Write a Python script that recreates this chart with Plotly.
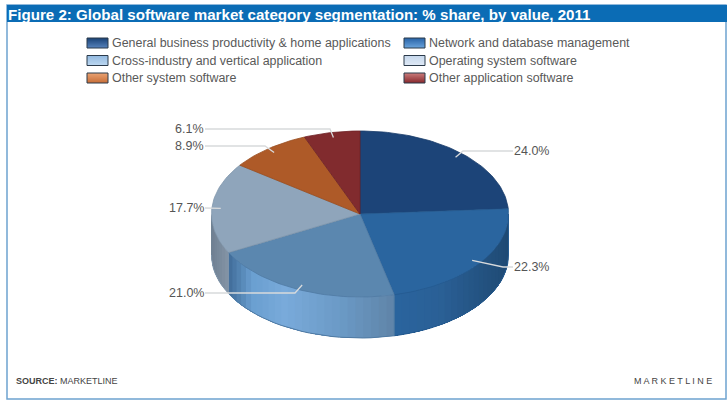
import math
import plotly.graph_objects as go

categories = ["General business productivity & home applications", "Network and database management",
              "Cross-industry and vertical application", "Operating system software",
              "Other system software", "Other application software"]
shares = [24.0, 22.3, 21.0, 17.7, 8.9, 6.1]
value_labels = ["24.0%", "22.3%", "21.0%", "17.7%", "8.9%", "6.1%"]
title_text = "Figure 2: Global software market category segmentation: % share, by value, 2011"

# styling
top_colors = ["#1c4478", "#2a659f", "#5b87af", "#8fa5bb", "#ae5a28", "#812b2e"]
edge_colors = ["#163a68", "#245a90", "#4f7aa3", "#7f95ab", "#984d20", "#6f2226"]
wall_stops = [
    [(0, "#1f4a74"), (1, "#1f4a74")],
    [(394, "#2a649e"), (440, "#2a6096"), (508, "#1f4a74")],
    [(228, "#3e6a96"), (252, "#6a9fd0"), (285, "#79aada"), (340, "#6b9ac6"), (394, "#5f84a8")],
    [(211, "#6e7f91"), (228, "#8494a6")],
    [(0, "#7a3a18"), (1, "#7a3a18")],
    [(0, "#5a1a1e"), (1, "#5a1a1e")],
]
swatch_colors = [("#1c4478", "#5a86c0"), ("#2a65a8", "#6fa8e0"), ("#6fa3d6", "#a8cbec"),
                 ("#b4cbe6", "#d4e2f2"), ("#c9703a", "#e8a070"), ("#8a2c30", "#c87878")]
CX, CY, RX, RY, DEPTH = 360, 214, 148.5, 83, 41


def hex2rgb(c):
    return [int(c[i:i + 2], 16) for i in (1, 3, 5)]


def mix(a, b, t):
    ra, rb = hex2rgb(a), hex2rgb(b)
    return "#%02x%02x%02x" % tuple(round(p + (q - p) * t) for p, q in zip(ra, rb))


def ramp(stops, x):
    if x <= stops[0][0]:
        return stops[0][1]
    for (x0, c0), (x1, c1) in zip(stops, stops[1:]):
        if x <= x1:
            return mix(c0, c1, (x - x0) / (x1 - x0))
    return stops[-1][1]


def pt(deg, r=1.0, dy=0.0):
    a = math.radians(deg)
    return CX + RX * r * math.sin(a), CY - RY * r * math.cos(a) + dy


fig = go.Figure()


def poly(xs, ys, fill, line=None, width=0, name=""):
    fig.add_trace(go.Scatter(x=xs, y=ys, mode="lines", fill="toself", fillcolor=fill,
                             line=dict(color=line or fill, width=width), hoverinfo="skip",
                             showlegend=False, name=name))


def path(xs, ys, color, width=1):
    fig.add_trace(go.Scatter(x=xs, y=ys, mode="lines", line=dict(color=color, width=width),
                             hoverinfo="skip", showlegend=False))


# slice boundaries from the values
total = sum(shares)
bounds = [0.0]
for s in shares:
    bounds.append(bounds[-1] + 360 * s / total)

# walls: each strip reaches to the end of its slice and the next one paints over it, so no seams show
STEP = 3.0
for i, s in enumerate(shares):
    a0, a1 = max(bounds[i], 90), min(bounds[i + 1], 270)
    if a1 <= a0:
        continue
    n = max(1, int((a1 - a0) / STEP))
    angles = [a0 + (a1 - a0) * k / n for k in range(n + 1)]
    for k in range(n):
        rest = angles[k:]
        top = [pt(a) for a in rest]
        bot = [pt(a, dy=DEPTH) for a in reversed(rest)]
        xs = [p[0] for p in top + bot] + [top[0][0]]
        ys = [p[1] for p in top + bot] + [top[0][1]]
        poly(xs, ys, ramp(wall_stops[i], (top[0][0] + pt(angles[k + 1])[0]) / 2), width=0, name=categories[i])
    xs, ys = zip(*[pt(a, dy=DEPTH) for a in angles])
    path(list(xs), list(ys), edge_colors[i])
    x0, y0 = pt(a0)
    path([x0, x0], [y0, y0 + DEPTH], edge_colors[i])

# tops
for i, s in enumerate(shares):
    a0, a1 = bounds[i], bounds[i + 1]
    n = max(4, int((a1 - a0) / 1.5))
    arc = [pt(a0 + (a1 - a0) * k / n) for k in range(n + 1)]
    xs = [CX] + [p[0] for p in arc] + [CX]
    ys = [CY] + [p[1] for p in arc] + [CY]
    poly(xs, ys, top_colors[i], line=edge_colors[i], width=0.8, name=categories[i])

# leader lines: label side, elbow y comes from the label position
label_pos = [(513, 151, "left"), (513, 267, "left"), (205, 293, "right"),
             (205, 208, "right"), (205, 146, "right"), (205, 129, "right")]
elbow_x = [463, 503, 295, 219, 265, 330]
annotations = []
for i, s in enumerate(shares):
    mid = (bounds[i] + bounds[i + 1]) / 2
    ax, ay = pt(mid, 0.94)
    lx, ly, side = label_pos[i]
    path([lx, elbow_x[i], ax], [ly, ly, ay], "#d8dadc", 1.3)
    annotations.append(dict(x=lx - 1 if side == "left" else lx + 1, y=ly, text=value_labels[i], showarrow=False,
                            xref="x", yref="y", xanchor=side, yanchor="middle",
                            font=dict(family="Liberation Sans", size=12.5, color="#555555")))

# legend
rows = [(87, 43), (404, 43), (87, 60.5), (404, 60.5), (87, 78), (404, 78)]
for i, (x, y) in enumerate(rows):
    N = 10
    for k in range(N):
        y0 = y - 5 + k
        poly([x, x + 21, x + 21, x, x], [y0, y0, y0 + 1, y0 + 1, y0],
             mix(swatch_colors[i][0], swatch_colors[i][1], k / (N - 1) * 0.9 if i < 4 else (N - 1 - k) / (N - 1)), width=0)
    path([x, x + 21, x + 21, x, x], [y - 5, y - 5, y + 5, y + 5, y - 5], "#2b3a4a", 1)
    annotations.append(dict(x=x + 23, y=y, text=categories[i], showarrow=False, xanchor="left", yanchor="middle",
                            xref="x", yref="y",
                            font=dict(family="Liberation Sans", size=12.45, color="#595959")))

# frame and heading band
shapes = [
    dict(type="rect", xref="x", yref="y", x0=7, x1=726, y0=5, y1=399, line=dict(color="#6ea3cf", width=1.5),
         fillcolor="rgba(0,0,0,0)", layer="below"),
    dict(type="rect", xref="x", yref="y", x0=7, x1=727, y0=5, y1=22, line=dict(width=0), fillcolor="#0b6cb5",
         layer="below"),
]
annotations.append(dict(x=6, y=14, text="<b>%s</b>" % title_text, showarrow=False, xanchor="left", yanchor="middle",
                        xref="x", yref="y", font=dict(family="Liberation Sans", size=15.13, color="white")))
annotations.append(dict(x=14, y=381, text="<b>SOURCE:</b> MARKETLINE", showarrow=False, xanchor="left",
                        yanchor="middle", xref="x", yref="y",
                        font=dict(family="Liberation Sans", size=9, color="#444444")))
annotations.append(dict(x=714, y=381, text="M A R K E T L I N E", showarrow=False, xanchor="right",
                        yanchor="middle", xref="x", yref="y",
                        font=dict(family="Liberation Sans", size=9, color="#444444")))

fig.update_layout(
    width=727, height=408, margin=dict(l=0, r=0, t=0, b=0), paper_bgcolor="white", plot_bgcolor="white",
    xaxis=dict(range=[0, 727], visible=False, fixedrange=True),
    yaxis=dict(range=[408, 0], visible=False, fixedrange=True),
    shapes=shapes, annotations=annotations, showlegend=False,
)
fig.write_html("out.html", config=dict(displayModeBar=False),
               post_script="document.body.style.margin='0';document.documentElement.style.overflow='hidden';")
